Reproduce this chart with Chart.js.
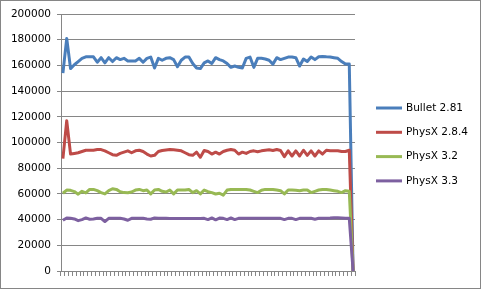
<!DOCTYPE html>
<html lang="en">
<head>
<meta charset="UTF-8">
<title>Physics engines</title>
<script src="https://cdn.jsdelivr.net/npm/chart.js"></script>
<style>
    body { margin: 0; background: #fff; }
    #grafico { display: block; }
</style>
</head>
<body>
<canvas id="grafico" width="481" height="289"></canvas>
<script>
    // eixo x: categorias sem rotulo (apenas marcas)
    const categories = [
        1, 2, 3, 4, 5, 6, 7, 8, 9, 10, 11, 12, 13, 14, 15, 16, 17, 18, 19, 20,
        21, 22, 23, 24, 25, 26, 27, 28, 29, 30, 31, 32, 33, 34, 35, 36, 37, 38, 39, 40,
        41, 42, 43, 44, 45, 46, 47, 48, 49, 50, 51, 52, 53, 54, 55, 56, 57, 58, 59, 60,
        61, 62, 63, 64, 65, 66, 67, 68, 69, 70, 71, 72, 73, 74, 75, 76, 77
    ];

    const seriesNames = ['Bullet 2.81', 'PhysX 2.8.4', 'PhysX 3.2', 'PhysX 3.3'];
    const seriesColors = ['#4A7EBB', '#BE4B48', '#98B954', '#7D60A0'];

    const bullet281 = [
        154000, 181000, 157500, 160500, 163000, 165500, 166700, 166700, 166700, 162500,
        166000, 162000, 166000, 163000, 166000, 164500, 165500, 163500, 163500, 163500,
        165500, 162500, 165500, 166500, 158000, 165500, 164000, 165500, 166000, 164500,
        159000, 164000, 166500, 166500, 161500, 158000, 157500, 162000, 163500, 161500,
        166000, 164500, 163500, 161500, 158500, 159500, 158500, 158000, 165500, 166500,
        158500, 165500, 165500, 165000, 164000, 161000, 166000, 164500, 165500, 166500,
        166500, 166000, 159500, 165000, 163000, 166500, 164500, 166700, 167000, 166700,
        166500, 166000, 165500, 163000, 161000, 161000, 0
    ];
    const physx284 = [
        87500, 117000, 91000, 91500, 92000, 93000, 94000, 94000, 94000, 94500,
        94500, 93500, 92000, 90500, 90000, 91500, 92500, 93500, 92000, 93500,
        94000, 93000, 91000, 89500, 90000, 93000, 93800, 94200, 94600, 94300,
        94000, 93500, 92000, 90500, 90000, 92500, 88500, 93800, 93000, 91000,
        92500, 91000, 93000, 94000, 94600, 94000, 91000, 92500, 91500, 93000,
        93500, 92800, 93500, 94000, 94300, 93800, 94500, 93800, 89000, 93500,
        89500, 93500, 89500, 94000, 90000, 93500, 89500, 93500, 91000, 94000,
        93500, 93500, 93600, 93000, 93000, 94000, 0
    ];
    const physx32 = [
        60500, 63000, 62800, 61800, 59800, 62000, 60800, 63500, 63500, 62500,
        61000, 60000, 62500, 64000, 63500, 61700, 61000, 60900, 61500, 63000,
        63500, 62500, 63000, 60000, 63000, 63500, 62000, 61500, 63000, 60000,
        63000, 63000, 63000, 63500, 61000, 62500, 60000, 63000, 61700, 61000,
        59900, 60500, 59000, 63000, 63500, 63500, 63500, 63500, 63500, 63000,
        62000, 61000, 62800, 63500, 63500, 63500, 63000, 62500, 60000, 63000,
        63000, 62800, 62500, 63000, 63000, 61000, 62000, 63000, 63500, 63500,
        63000, 62500, 62000, 61000, 62500, 62000, 0
    ];
    const physx33 = [
        39500, 41300, 41000, 40500, 39200, 40000, 41300, 40300, 40500, 41000,
        41000, 38500, 41000, 41000, 41000, 41000, 40500, 39500, 41000, 41000,
        41000, 41000, 40500, 40300, 41300, 41000, 41000, 41000, 40800, 40800,
        40800, 40800, 40800, 40800, 40800, 40800, 40800, 41000, 40000, 41300,
        39800, 41200, 41000, 40000, 41300, 40000, 41000, 41000, 41000, 41000,
        41000, 41000, 41000, 41000, 41000, 41000, 41000, 41000, 40000, 41000,
        41000, 40000, 41000, 41000, 41000, 41000, 40300, 41000, 41000, 41000,
        41200, 41500, 41500, 41300, 41000, 41000, 0
    ];

    const yMax = 200000;
    const yStep = 20000;

    const cinza = '#868686';
    const fonte = { family: 'DejaVu Sans', size: 10.5 };

    const series = [bullet281, physx284, physx32, physx33];

    // legenda desenhada na mao, a direita
    const legendaPlugin = {
        id: 'legendaDireita',
        afterDraw(chart) {
            const ctx = chart.ctx;
            ctx.save();
            chart.data.datasets.forEach(function (ds, i) {
                const y = 108 + i * 24.3;
                ctx.strokeStyle = ds.borderColor;
                ctx.lineWidth = 3;
                ctx.beginPath();
                ctx.moveTo(376, y);
                ctx.lineTo(402, y);
                ctx.stroke();
                ctx.fillStyle = '#000';
                ctx.font = fonte.size + 'px ' + fonte.family;
                ctx.textBaseline = 'middle';
                ctx.fillText(ds.label, 406, y);
            });
            ctx.restore();
        }
    };

    // borda externa do grafico
    const bordaPlugin = {
        id: 'borda',
        beforeDraw(chart) {
            const ctx = chart.ctx;
            ctx.save();
            ctx.fillStyle = '#fff';
            ctx.fillRect(0, 0, chart.width, chart.height);
            ctx.strokeStyle = cinza;
            ctx.lineWidth = 1;
            ctx.strokeRect(0.5, 0.5, chart.width - 1, chart.height - 1);
            ctx.restore();
        }
    };

    const config = {
        type: 'line',
        data: {
            labels: categories,
            datasets: series.map(function (valores, i) {
                return {
                    label: seriesNames[i],
                    data: valores,
                    borderColor: seriesColors[i],
                    backgroundColor: seriesColors[i],
                    borderWidth: 3,
                    pointRadius: 0,
                    tension: 0,
                    borderJoinStyle: 'round',
                    order: series.length - 1 - i
                };
            })
        },
        options: {
            responsive: false,
            animation: false,
            devicePixelRatio: 1,
            layout: { padding: { left: 0, top: 14, right: 126, bottom: 0 } },
            plugins: {
                legend: { display: false },
                tooltip: { enabled: false }
            },
            scales: {
                x: {
                    offset: true,
                    afterFit: function (scale) { scale.height = 18; },
                    grid: {
                        offset: true,
                        drawOnChartArea: false,
                        drawTicks: true,
                        tickLength: 5,
                        color: cinza
                    },
                    border: { display: true, color: cinza },
                    ticks: { display: false, autoSkip: false }
                },
                y: {
                    min: 0,
                    max: yMax,
                    afterFit: function (scale) { scale.width = 61; },
                    grid: { color: cinza, tickLength: 4 },
                    border: { display: true, color: cinza },
                    ticks: {
                        stepSize: yStep,
                        color: '#000',
                        font: fonte,
                        padding: 6,
                        callback: function (v) { return String(v); }
                    }
                }
            }
        },
        plugins: [bordaPlugin, legendaPlugin]
    };

    new Chart(document.getElementById('grafico'), config);
</script>
</body>
</html>
